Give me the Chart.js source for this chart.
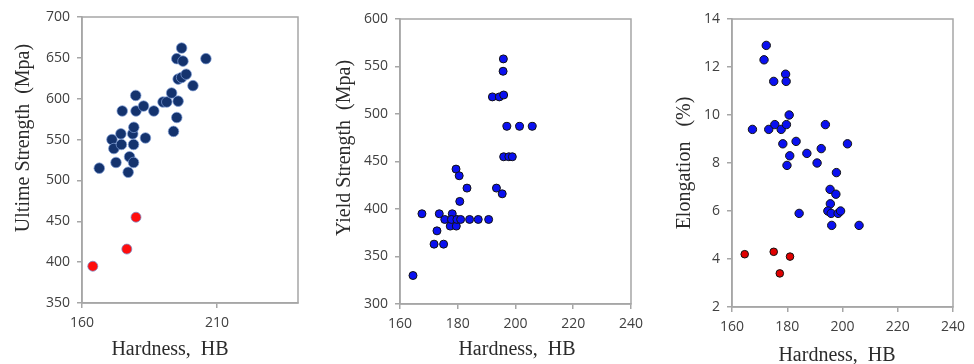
<!DOCTYPE html>
<html>
<head>
<meta charset="utf-8">
<script src="https://cdn.jsdelivr.net/npm/chart.js@4.4.1/dist/chart.umd.min.js"></script>
<style>
    html, body { margin: 0; padding: 0; background: #fff; }
    .panel { position: absolute; top: 0; height: 364px; }
</style>
</head>
<body>
<div class="panel" style="left:0;width:320px"><canvas id="utsChart"></canvas></div>
<div class="panel" style="left:320px;width:330px"><canvas id="ysChart"></canvas></div>
<div class="panel" style="left:650px;width:324px"><canvas id="elChart"></canvas></div>
<script>
// ================================
// DATA
// ================================
// Ultimate strength vs hardness
const UTS_HB = [166.4, 171.1, 171.8, 172.6, 174.9, 174.4, 174.6, 177.1, 177.6, 178.8, 179.1, 179.2,
    179.1, 179.9, 180.0, 182.8, 183.5, 186.6, 190.0, 191.4, 193.2, 193.9, 195.1, 195.6, 195.1, 196.9,
    197.4, 195.6, 196.9, 198.6, 201.1, 205.9];
const UTS_MPA = [515, 550, 539, 522, 585, 557, 544, 510, 529, 557, 544, 565,
    522, 604, 585, 591, 552, 585, 596, 596, 607, 560, 577, 597, 649, 662,
    646, 624, 626, 630, 616, 649];
const UTS_RED_HB = [164.0, 176.6, 180.0];
const UTS_RED_MPA = [395, 416, 455];
const UTS_X_RANGE = [160, 240];
const UTS_X_TICKS = [160, 210];
const UTS_Y_TICKS = [350, 400, 450, 500, 550, 600, 650, 700];

// Yield strength vs hardness
const YS_HB = [164.5, 167.6, 172.8, 171.8, 175.1, 173.6, 175.5, 177.4, 178.1, 177.8, 179.5, 179.7,
    181.0, 179.4, 180.5, 180.7, 183.2, 184.1, 187.1, 190.7, 192.0, 194.4, 195.9, 195.8, 195.7,
    193.4, 195.4, 197.0, 201.4, 205.8, 195.9, 197.7, 198.9];
const YS_MPA = [330, 395, 377, 363, 363, 395, 389, 382, 395, 389, 382, 389,
    389, 442, 435, 408, 422, 389, 389, 389, 518, 518, 520, 558, 545,
    422, 416, 487, 487, 487, 455, 455, 455];
const YS_X_TICKS = [160, 180, 200, 220, 240];
const YS_Y_TICKS = [300, 350, 400, 450, 500, 550, 600];

// Elongation vs hardness
const EL_HB = [167.4, 171.6, 172.4, 173.3, 175.1, 175.5, 177.8, 178.4, 179.4, 179.6, 179.7, 180.7,
    179.9, 180.9, 183.2, 184.3, 187.1, 190.8, 192.3, 193.8, 195.5, 195.6, 194.7, 195.9, 196.1,
    197.6, 197.8, 198.4, 199.3, 201.8, 206.0];
const EL_PCT = [9.4, 12.3, 12.9, 9.4, 11.4, 9.6, 9.4, 8.8, 11.7, 11.4, 9.6, 10.0,
    7.9, 8.3, 8.9, 5.9, 8.4, 8.0, 8.6, 9.6, 6.9, 6.3, 6.0, 5.9, 5.4,
    6.7, 7.6, 5.9, 6.0, 8.8, 5.4];
const EL_RED_HB = [164.6, 175.1, 177.3, 181.0];
const EL_RED_PCT = [4.2, 4.3, 3.4, 4.1];
const EL_X_TICKS = [160, 180, 200, 220, 240];
const EL_Y_TICKS = [2, 4, 6, 8, 10, 12, 14];

// ================================
// STYLE
// ================================
const AXIS_GREY = '#a6a6a6';
const TICK_FONT = { family: '"Open Sans", "Liberation Sans", sans-serif', size: 14 };
const CAPTION_FONT = '20px "Liberation Serif", "Times New Roman", serif';

const toPoints = (xs, ys) => xs.map((x, i) => ({ x, y: ys[i] }));

// draws the closed box around the plot area
const framePlugin = {
    id: 'frame',
    beforeDatasetsDraw(chart) {
        const { ctx, chartArea: a } = chart;
        ctx.save();
        ctx.strokeStyle = AXIS_GREY;
        ctx.lineWidth = 1.5;
        ctx.strokeRect(a.left, a.top, a.right - a.left, a.bottom - a.top);
        ctx.restore();
    }
};

// axis captions, placed where the original figure has them
const captionPlugin = {
    id: 'captions',
    afterDraw(chart, args, opts) {
        const ctx = chart.ctx;
        ctx.save();
        ctx.fillStyle = '#2b2b2b';
        ctx.font = CAPTION_FONT;
        ctx.textAlign = 'center';
        ctx.textBaseline = 'alphabetic';
        ctx.fillText(opts.x.text, opts.x.cx, opts.x.base);
        ctx.translate(opts.y.cx, opts.y.cy);
        ctx.rotate(-Math.PI / 2);
        ctx.textBaseline = 'middle';
        ctx.fillText(opts.y.text, 0, 0);
        ctx.restore();
    }
};

// ================================
// PANEL BUILDER
// ================================
function makePanel(id, p) {
    const canvas = document.getElementById(id);
    const axis = (ticks, range, fitFn) => ({
        type: 'linear',
        min: range[0],
        max: range[1],
        afterBuildTicks: s => { s.ticks = ticks.map(v => ({ value: v })); },
        afterFit: fitFn,
        grid: { drawOnChartArea: false, tickLength: 5, color: AXIS_GREY, lineWidth: 1.5 },
        border: { color: AXIS_GREY, width: 1.5 },
        ticks: { font: TICK_FONT, color: '#404040', padding: 7, autoSkip: false, maxRotation: 0 }
    });

    return new Chart(canvas, {
        type: 'scatter',
        data: { datasets: p.datasets },
        options: {
            responsive: true,
            maintainAspectRatio: false,
            animation: false,
            layout: { padding: { top: p.top, right: p.right, left: 0, bottom: 0 } },
            plugins: {
                legend: { display: false },
                tooltip: { enabled: false },
                captions: p.captions
            },
            scales: {
                x: axis(p.xTicks, p.xRange, s => { s.height = p.xHeight; }),
                y: axis(p.yTicks, [p.yTicks[0], p.yTicks[p.yTicks.length - 1]], s => { s.width = p.yWidth; })
            }
        },
        plugins: [framePlugin, captionPlugin]
    });
}

// ================================
// INIT
// ================================
document.addEventListener('DOMContentLoaded', () => {
    if (typeof Chart === 'undefined') {
        console.error('Chart.js not loaded');
        return;
    }

    makePanel('utsChart', {
        top: 17, right: 22, yWidth: 82, xHeight: 61,
        xRange: UTS_X_RANGE, xTicks: UTS_X_TICKS, yTicks: UTS_Y_TICKS,
        captions: {
            x: { text: 'Hardness,  HB', cx: 170, base: 355 },
            y: { text: 'Ultime Strength  (Mpa)', cx: 24, cy: 138 }
        },
        datasets: [{
            data: toPoints(UTS_HB, UTS_MPA),
            backgroundColor: '#14336e',
            borderColor: 'rgba(130,160,215,0.7)',
            borderWidth: 1,
            pointRadius: 5.3
        }, {
            data: toPoints(UTS_RED_HB, UTS_RED_MPA),
            backgroundColor: '#ff0d0d',
            borderColor: 'rgba(120,140,200,0.75)',
            borderWidth: 1,
            pointRadius: 5
        }]
    });

    makePanel('ysChart', {
        top: 19, right: 14, yWidth: 80, xHeight: 60,
        xRange: [160, 240], xTicks: YS_X_TICKS, yTicks: YS_Y_TICKS,
        captions: {
            x: { text: 'Hardness,  HB', cx: 197, base: 355 },
            y: { text: 'Yield Strength  (Mpa)', cx: 25, cy: 148 }
        },
        datasets: [{
            data: toPoints(YS_HB, YS_MPA),
            backgroundColor: '#0a10f0',
            borderColor: '#111',
            borderWidth: 1,
            pointRadius: 4
        }]
    });

    makePanel('elChart', {
        top: 19, right: 21, yWidth: 82, xHeight: 57,
        xRange: [160, 240], xTicks: EL_X_TICKS, yTicks: EL_Y_TICKS,
        captions: {
            x: { text: 'Hardness,  HB', cx: 187, base: 361 },
            y: { text: 'Elongation   (%)', cx: 35, cy: 163 }
        },
        datasets: [{
            data: toPoints(EL_HB, EL_PCT),
            backgroundColor: '#0a10f0',
            borderColor: '#111',
            borderWidth: 1,
            pointRadius: 4.2
        }, {
            data: toPoints(EL_RED_HB, EL_RED_PCT),
            backgroundColor: '#e00000',
            borderColor: '#111',
            borderWidth: 1,
            pointRadius: 3.8
        }]
    });
});
</script>
</body>
</html>
